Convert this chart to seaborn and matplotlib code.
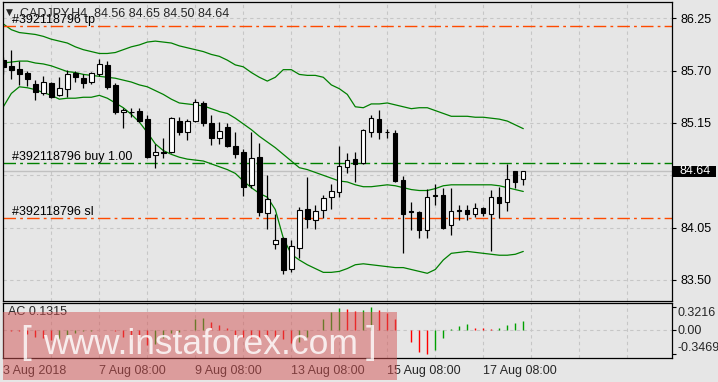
import matplotlib
matplotlib.use("Agg")
import matplotlib.pyplot as plt
from matplotlib.patches import Rectangle
import seaborn as sns
import numpy as np
import pandas as pd

# ---------------- data ----------------
title_text = "CADJPY,H4  84.56 84.65 84.50 84.64"

opens = [85.81, 85.75, 85.72, 85.68, 85.56, 85.46, 85.57, 85.44, 85.51, 85.67,
         85.62, 85.58, 85.66, 85.76, 85.55, 85.26, 85.27, 85.28, 85.19, 84.81,
         84.84, 84.84, 85.17, 85.06, 85.17, 85.36, 85.15, 84.99, 85.11, 84.91,
         84.84, 84.50, 84.79, 84.20, 83.88, 83.94, 83.62, 83.84, 84.25, 84.13,
         84.24, 84.37, 84.42, 84.69, 84.77, 84.73, 85.06, 85.19, 85.06, 85.04,
         84.55, 84.22, 84.21, 84.02, 84.38, 84.39, 84.08, 84.24, 84.24, 84.19,
         84.26, 84.19, 84.37, 84.32, 84.64, 84.56]
highs = [85.84, 85.92, 85.80, 85.70, 85.60, 85.64, 85.58, 85.63, 85.71, 85.70,
         85.66, 85.69, 85.82, 85.80, 85.57, 85.31, 85.31, 85.31, 85.23, 84.93,
         84.99, 85.21, 85.21, 85.19, 85.40, 85.38, 85.23, 85.16, 85.15, 85.06,
         84.88, 85.05, 84.94, 84.60, 84.19, 83.95, 83.92, 84.27, 84.58, 84.29,
         84.39, 84.51, 84.91, 84.83, 84.84, 85.09, 85.23, 85.29, 85.09, 85.08,
         84.59, 84.32, 84.23, 84.46, 84.51, 84.47, 84.47, 84.29, 84.29, 84.31,
         84.27, 84.45, 84.48, 84.72, 84.65, 84.65]
lows = [85.66, 85.61, 85.55, 85.54, 85.39, 85.44, 85.41, 85.43, 85.42, 85.58,
        85.52, 85.56, 85.64, 85.51, 85.24, 85.10, 85.21, 85.16, 84.78, 84.68,
        84.78, 84.83, 85.02, 84.97, 85.16, 85.12, 84.92, 84.93, 84.90, 84.78,
        84.38, 84.47, 84.17, 84.04, 83.83, 83.56, 83.58, 83.73, 84.05, 84.04,
        84.15, 84.25, 84.37, 84.62, 84.53, 84.72, 85.00, 84.98, 84.99, 84.53,
        83.78, 84.03, 83.94, 83.94, 84.29, 84.04, 83.97, 84.13, 84.13, 84.16,
        84.17, 83.80, 84.15, 84.22, 84.47, 84.50]
closes = [85.74, 85.71, 85.66, 85.61, 85.48, 85.58, 85.42, 85.52, 85.66, 85.63,
          85.57, 85.67, 85.77, 85.53, 85.27, 85.29, 85.26, 85.17, 84.79, 84.84,
          84.83, 85.20, 85.06, 85.17, 85.37, 85.15, 84.99, 85.07, 84.91, 84.82,
          84.48, 84.78, 84.21, 84.35, 83.92, 83.61, 83.86, 84.24, 84.14, 84.23,
          84.36, 84.44, 84.70, 84.76, 84.72, 85.08, 85.20, 85.06, 85.05, 84.54,
          84.19, 84.21, 84.03, 84.37, 84.39, 84.05, 84.23, 84.23, 84.19, 84.26,
          84.20, 84.37, 84.31, 84.56, 84.53, 84.64]

bb_upper = [86.19, 86.13, 86.10, 86.09, 86.08, 86.06, 86.03, 86.01, 85.99, 85.95,
            85.92, 85.90, 85.88, 85.88, 85.89, 85.92, 85.95, 85.97, 86.00, 86.01,
            86.00, 85.99, 85.96, 85.94, 85.92, 85.90, 85.87, 85.85, 85.81, 85.76,
            85.74, 85.68, 85.63, 85.59, 85.63, 85.71, 85.71, 85.66, 85.65, 85.65,
            85.63, 85.55, 85.51, 85.45, 85.32, 85.31, 85.35, 85.35, 85.36, 85.34,
            85.32, 85.30, 85.31, 85.31, 85.28, 85.25, 85.22, 85.22, 85.22, 85.21,
            85.21, 85.20, 85.19, 85.17, 85.13, 85.09]
bb_middle = [85.78, 85.79, 85.80, 85.80, 85.78, 85.77, 85.75, 85.72, 85.69, 85.68,
             85.66, 85.65, 85.64, 85.63, 85.62, 85.60, 85.58, 85.55, 85.53, 85.49,
             85.45, 85.40, 85.36, 85.35, 85.34, 85.33, 85.30, 85.27, 85.25, 85.20,
             85.14, 85.08, 85.01, 84.95, 84.89, 84.82, 84.75, 84.68, 84.66, 84.63,
             84.60, 84.57, 84.54, 84.53, 84.50, 84.48, 84.48, 84.49, 84.50, 84.49,
             84.47, 84.45, 84.44, 84.44, 84.46, 84.49, 84.50, 84.50, 84.50, 84.50,
             84.50, 84.50, 84.49, 84.47, 84.45, 84.43]
bb_lower = [85.32, 85.46, 85.53, 85.52, 85.50, 85.47, 85.44, 85.40, 85.41, 85.41,
            85.42, 85.42, 85.44, 85.41, 85.36, 85.31, 85.24, 85.16, 85.05, 84.93,
            84.86, 84.82, 84.79, 84.77, 84.76, 84.75, 84.72, 84.69, 84.66, 84.62,
            84.54, 84.47, 84.41, 84.37, 84.24, 83.94, 83.77, 83.71, 83.66, 83.62,
            83.58, 83.58, 83.59, 83.62, 83.66, 83.67, 83.66, 83.65, 83.64, 83.63,
            83.63, 83.61, 83.59, 83.57, 83.61, 83.71, 83.78, 83.79, 83.80, 83.79,
            83.78, 83.77, 83.76, 83.76, 83.77, 83.80]

ac_values = [-0.007, -0.014, -0.024, -0.057, -0.100, -0.124, -0.143, -0.133, -0.096, -0.047,
             -0.024, -0.014, -0.010, -0.007, -0.021, -0.110, -0.133, -0.157, -0.215, -0.204,
             -0.124, -0.047, -0.039, -0.007, 0.153, 0.164, 0.114, 0.067, 0.024, -0.086,
             -0.110, -0.114, -0.122, -0.124, -0.126, -0.129, -0.193, -0.182, -0.110, -0.010,
             0.153, 0.257, 0.310, 0.296, 0.276, 0.286, 0.3216, 0.286, 0.239, 0.162,
             -0.004, -0.182, -0.325, -0.3469, -0.290, -0.124, 0.010, 0.057, 0.076, 0.029,
             0.019, 0.004, 0.029, 0.067, 0.104, 0.1315]

price_ticks = [86.25, 85.70, 85.15, 84.60, 84.05, 83.50]
price_tick_labels = ["86.25", "85.70", "85.15", "", "84.05", "83.50"]
ac_ticks = [0.3216, 0.0, -0.3469]
ac_tick_labels = ["0.3216", "0.00", "-0.3469"]
time_tick_pos = [0, 12, 24, 36, 48, 60]
time_tick_labels = ["3 Aug 2018", "7 Aug 08:00", "9 Aug 08:00",
                    "13 Aug 08:00", "15 Aug 08:00", "17 Aug 08:00"]
order_id = "#392118796"
tp_level = 86.17
buy_level = 84.73
sl_level = 84.15
buy_lots = "1.00"
last_price = 84.64
watermark = "www.instaforex.com"

# ---------------- style ----------------
sns.set_style("white")
plt.rcParams['font.family'] = ['Liberation Sans', 'DejaVu Sans']
plt.rcParams['font.size'] = 9

BG = '#e6e6e6'
GRID = '#c6c6c6'
BAND = '#008000'
LEVEL_RED = '#ff4a00'
W, H = 718, 382


def frect(l, t, r, b):
    return [l / W, 1 - b / H, (r - l) / W, (b - t) / H]


df = pd.DataFrame(dict(bar=np.arange(len(closes)), open=opens, high=highs, low=lows,
                       close=closes, upper=bb_upper, middle=bb_middle, lower=bb_lower,
                       ac=ac_values))
df['bull'] = df['close'] >= df['open']

fig = plt.figure(figsize=(W / 100, H / 100), dpi=100, facecolor=BG)
ax = fig.add_axes(frect(3, 2, 672, 301))
ax2 = fig.add_axes(frect(3, 303, 672, 357.5))
XLIM = (-0.04, 83.59)

for a in (ax, ax2):
    a.set_facecolor(BG)
    for s in a.spines.values():
        s.set_color('black')
        s.set_linewidth(0.9)
    a.set_xlim(*XLIM)

# grid
ax.set_xticks(range(0, 84, 6))
ax.set_yticks(price_ticks)
ax.set_yticklabels(price_tick_labels)
ax.grid(True, color=GRID, ls=(0, (3, 3)), lw=0.8, zorder=0)
ax.set_axisbelow(True)
ax.set_ylim(83.279, 86.421)
ax.yaxis.tick_right()
ax.tick_params(axis='x', length=0, labelbottom=False)
ax.tick_params(axis='y', length=3, width=0.8, color='black', pad=3, labelsize=9,
               labelcolor='black')

# bollinger bands
for col in ['upper', 'middle', 'lower']:
    sns.lineplot(data=df, x='bar', y=col, ax=ax, color=BAND, lw=0.9, zorder=2)
ax.set_xlabel('')
ax.set_ylabel('')

# level lines
ax.axhline(last_price, color='#c0c0c0', lw=1.0, zorder=1)
ax.axhline(tp_level, color=LEVEL_RED, lw=1.0, ls=(0, (9, 3, 2, 3)), zorder=2)
ax.axhline(sl_level, color=LEVEL_RED, lw=1.0, ls=(0, (9, 3, 2, 3)), zorder=2)
ax.axhline(buy_level, color=BAND, lw=1.0, ls=(0, (9, 3, 2, 3)), zorder=2)

lbl_x = 9 / 669
for lvl, txt in [(tp_level, f"{order_id} tp"), (buy_level, f"{order_id} buy {buy_lots}"),
                 (sl_level, f"{order_id} sl")]:
    ax.annotate(txt, xy=(lbl_x, lvl), xycoords=('axes fraction', 'data'),
                xytext=(0, 2), textcoords='offset points', va='baseline', ha='left',
                fontsize=9, color='black', zorder=6)

# candles
ax.vlines(df['bar'], df['low'], df['high'], color='black', lw=0.9, zorder=3)
body_lo = np.minimum(df['open'], df['close'])
body_h = np.maximum((df['close'] - df['open']).abs(), 0.003)
ax.bar(df['bar'], body_h, bottom=body_lo, width=0.55,
       color=np.where(df['bull'], 'white', 'black'), edgecolor='black',
       linewidth=0.8, zorder=4)

# last price box
ax.add_patch(Rectangle((1.0015, last_price - 0.061), 0.0645, 0.122,
                       transform=ax.get_yaxis_transform(), facecolor='black',
                       edgecolor='none', clip_on=False, zorder=10))
ax.text(1.0105, last_price, f"{last_price:.2f}", transform=ax.get_yaxis_transform(),
        color='white', va='center', ha='left', fontsize=9, zorder=11, clip_on=False)

# title
fig.text(6 / W, 1 - 12.5 / H, "\u25BC", fontsize=6.5, va='center', ha='left',
         family=['DejaVu Sans'])
fig.text(20.5 / W, 1 - 16.7 / H, title_text, fontsize=9, va='baseline', ha='left')

# ---------------- AC panel ----------------
prev = df['ac'].shift(1).fillna(df['ac'].iloc[0] + 1)
ac_cols = np.where(df['ac'] >= prev, '#00a000', '#ff0000')
ax2.vlines(df['bar'], 0, df['ac'], colors=ac_cols, lw=1.0, zorder=3)
ax2.set_ylim(-0.400, 0.386)
ax2.axhline(0, color=GRID, ls=(0, (3, 3)), lw=0.8, zorder=0)
ax2.set_xticks(time_tick_pos)
ax2.set_xticklabels(time_tick_labels)
ax2.set_xticks(range(0, 84, 6), minor=True)
ax2.grid(True, which='both', axis='x', color=GRID, ls=(0, (3, 3)), lw=0.8, zorder=0)
ax2.set_axisbelow(True)
ax2.tick_params(axis='x', which='major', length=4, width=0.8, color='black', pad=1.5,
                labelsize=9)
ax2.tick_params(axis='x', which='minor', length=0)
for t in ax2.get_xticklabels():
    t.set_ha('left')
ax2.yaxis.tick_right()
ax2.set_yticks(ac_ticks)
ax2.set_yticklabels(ac_tick_labels)
ax2.tick_params(axis='y', length=3, width=0.8, color='black', pad=1.2, labelsize=9)
yl = ax2.get_yticklabels()
yl[0].set_va('top')
yl[2].set_va('bottom')
ax2.text(5 / 669, 0.94, f"AC {ac_values[-1]:.4f}", transform=ax2.transAxes,
         va='top', ha='left', fontsize=9)

# watermark
fig.patches.append(Rectangle((3 / W, 1 - 380 / H), 394 / W, 68 / H, transform=fig.transFigure,
                             facecolor=(0.83, 0.33, 0.33), alpha=0.5, edgecolor='none',
                             zorder=20))
fig.text(26 / W, 1 - 343 / H, "[", fontsize=28, color='white', alpha=0.8, va='center',
         ha='center', zorder=21, family=['Liberation Sans'])
fig.text(201 / W, 1 - 344 / H, watermark, fontsize=25.5, color='white', alpha=0.82,
         va='center', ha='center', zorder=21, family=['Liberation Sans'])
fig.text(371 / W, 1 - 343 / H, "]", fontsize=28, color='white', alpha=0.8, va='center',
         ha='center', zorder=21, family=['Liberation Sans'])

fig.savefig("out.png", dpi=100, facecolor=BG)
